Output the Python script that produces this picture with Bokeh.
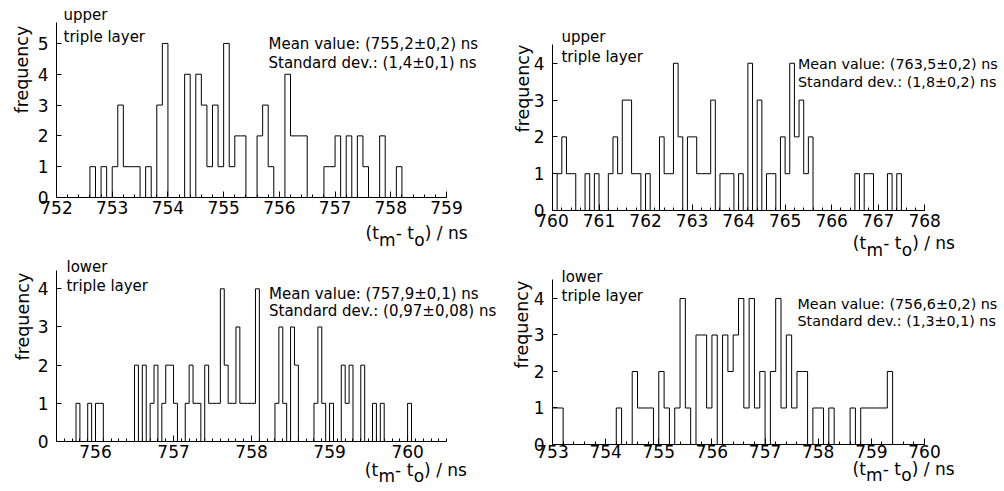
import math
import numpy as np
from bokeh.plotting import figure
from bokeh.layouts import column, row
from bokeh.models import Label, FixedTicker, Range1d
from bokeh.embed import file_html
from bokeh.resources import INLINE

FONT = "DejaVu Sans"

# ---------------- data (bin left edge in ns, counts) ----------------
# upper triple layer, left panel (bin width 0.1 ns)
ul_bins = [752.6, 752.8, 753.0, 753.1, 753.2, 753.3, 753.4, 753.6, 753.8, 753.9,
           754.3, 754.5, 754.6, 754.7, 754.8, 754.9, 755.0, 755.1, 755.2, 755.3,
           755.6, 755.7, 755.8, 756.1, 756.2, 756.3, 756.4, 756.8, 756.9, 757.0,
           757.2, 757.4, 757.5, 757.8, 758.1]
ul_counts = [1, 1, 1, 3, 1, 1, 1, 1, 3, 5,
             4, 4, 3, 1, 3, 1, 5, 1, 2, 2,
             2, 3, 1, 4, 2, 2, 2, 1, 1, 2,
             2, 2, 1, 2, 1]
ul_mean = "Mean value: (755,2±0,2) ns"
ul_std = "Standard dev.: (1,4±0,1) ns"

# upper triple layer, right panel (bin width 0.1 ns)
ur_bins = [760.1, 760.2, 760.3, 760.4, 760.7, 760.9,
           761.2, 761.3, 761.4, 761.5, 761.6, 761.7, 761.8,
           762.0, 762.3, 762.4, 762.5, 762.6, 762.7, 762.9,
           763.0, 763.1, 763.2, 763.3, 763.4, 763.6, 763.7, 763.8,
           764.0, 764.2, 764.4, 764.6, 764.7, 764.9,
           765.0, 765.1, 765.2, 765.3, 765.4, 765.5,
           766.5, 766.7, 766.8, 767.2, 767.4]
ur_counts = [1, 2, 1, 1, 1, 1,
             1, 2, 1, 3, 3, 1, 1,
             1, 2, 1, 1, 4, 2, 2,
             2, 1, 1, 1, 3, 1, 1, 1,
             1, 4, 3, 1, 1, 2,
             1, 4, 2, 3, 1, 2,
             1, 1, 1, 1, 1]
ur_mean = "Mean value: (763,5±0,2) ns"
ur_std = "Standard dev.: (1,8±0,2) ns"

# lower triple layer, left panel (bin width 0.05 ns)
ll_bins = [755.75, 755.90, 756.00, 756.05,
           756.50, 756.60, 756.70, 756.75, 756.85, 756.90, 756.95, 757.00,
           757.15, 757.20, 757.25, 757.30,
           757.40, 757.45, 757.50, 757.55, 757.60, 757.65, 757.70, 757.75,
           757.80, 757.85, 757.90, 757.95, 758.00, 758.05,
           758.30, 758.35, 758.40, 758.50, 758.55,
           758.80, 758.85, 758.90, 759.00,
           759.15, 759.20, 759.25, 759.40,
           759.55, 759.65, 760.00]
ll_counts = [1, 1, 1, 1,
             2, 2, 1, 2, 1, 2, 2, 1,
             1, 2, 1, 1,
             2, 1, 1, 1, 4, 2, 1, 1,
             3, 1, 1, 1, 1, 4,
             1, 3, 1, 3, 2,
             1, 3, 1, 1,
             2, 1, 2, 2,
             1, 1, 1]
ll_mean = "Mean value: (757,9±0,1) ns"
ll_std = "Standard dev.: (0,97±0,08) ns"

# lower triple layer, right panel (bin width 0.1 ns)
lr_bins = [753.0, 753.1,
           754.2, 754.5, 754.6, 754.7, 754.8,
           755.0, 755.1, 755.3, 755.4, 755.5, 755.7, 755.8, 755.9,
           756.0, 756.2, 756.3, 756.4, 756.5, 756.6, 756.7, 756.8, 756.9,
           757.1, 757.2, 757.3, 757.4, 757.5, 757.6, 757.7, 757.9,
           758.0, 758.2, 758.6, 758.8, 758.9,
           759.0, 759.1, 759.2, 759.3]
lr_counts = [1, 1,
             1, 2, 1, 1, 1,
             2, 1, 1, 4, 1, 3, 3, 1,
             3, 3, 2, 3, 4, 1, 4, 1, 2,
             2, 4, 1, 3, 1, 2, 2, 1,
             1, 1, 1, 1, 1,
             1, 1, 1, 2]
lr_mean = "Mean value: (756,6±0,2) ns"
lr_std = "Standard dev.: (1,3±0,1) ns"

y_title = "frequency"
# x title "(t_m - t_o) / ns": main line plus a second, slightly lowered line holding the subscripts
x_title_main = "(t\u2003- t\u2007) / ns"
x_title_subs = "\u2002\u2009\u200am\u2003\u200ao"

PANELS = [
    dict(fig=(0, 0, 500, 250), ax=(56, 446, 197, 22), xr=(752, 759), ytopval=5.68,
         ymaxtick=5, minor=0.2, bw=0.1, bins=ul_bins, counts=ul_counts,
         layer="upper", mean=ul_mean, std=ul_std, stat_size=15, xlab_standoff=3,
         layer_xy=(63, 14, 36), stat_xy=(268, 43, 62.5), freq_xy=(21, 113), xt_xy=(365, 236)),
    dict(fig=(500, 0, 500, 262), ax=(551, 924, 210, 44), xr=(760, 768), ytopval=4.51,
         ymaxtick=4, minor=0.2, bw=0.1, bins=ur_bins, counts=ur_counts,
         layer="upper", mean=ur_mean, std=ur_std, stat_size=14.3, xlab_standoff=3,
         layer_xy=(560, 36, 56), stat_xy=(797, 63.5, 81), freq_xy=(521, 132), xt_xy=(852, 246)),
    dict(fig=(0, 250, 500, 241), ax=(55, 446, 441, 270), xr=(755.5, 760.5), ytopval=4.48,
         ymaxtick=4, minor=0.1, bw=0.05, bins=ll_bins, counts=ll_counts,
         layer="lower", mean=ll_mean, std=ll_std, stat_size=15, xlab_standoff=3,
         layer_xy=(65, 266.5, 285.5), stat_xy=(268, 293.5, 310), freq_xy=(21, 360), xt_xy=(364, 472.5)),
    dict(fig=(500, 262, 500, 229), ax=(552, 924, 444, 279), xr=(753, 760), ytopval=4.52,
         ymaxtick=4, minor=0.2, bw=0.1, bins=lr_bins, counts=lr_counts,
         layer="lower", mean=lr_mean, std=lr_std, stat_size=14.3, xlab_standoff=0,
         layer_xy=(561, 276.5, 295), stat_xy=(797, 303, 320), freq_xy=(521, 368), xt_xy=(852, 471.5)),
]


def build(c):
    fx, fy, w, h = c["fig"]
    L, R, B, T = c["ax"]
    x0, x1 = c["xr"]
    yv = c["ytopval"]
    kx = (x1 - x0) / (R - L)       # data per pixel, x
    ky = yv / (B - T)              # data per pixel, y
    # frame spans from the axes to the top/right edges of the canvas; axes are bounded
    p = figure(width=w, height=h, title=None,
               x_range=Range1d(x0, x0 + (fx + w - L) * kx),
               y_range=Range1d(0, (B - fy) * ky),
               output_backend="svg", toolbar_location=None,
               min_border_left=L - fx, min_border_right=0,
               min_border_top=0, min_border_bottom=fy + h - B)
    p.outline_line_color = None
    p.xgrid.visible = False
    p.ygrid.visible = False
    p.background_fill_color = "white"
    p.border_fill_color = "white"

    def dx(px):
        return x0 + (px - L) * kx

    def dy(py):
        return (B - py) * ky

    # histogram outline
    bw = c["bw"]
    n = int(round((x1 - x0) / bw))
    ys = [0] * (n + 1)
    for b, cnt in zip(c["bins"], c["counts"]):
        ys[int(round((b - x0) / bw))] = cnt
    xs = [x0 + i * bw for i in range(n + 1)]
    p.step(xs, ys, mode="after", line_color="black", line_width=1)

    # axes
    xa = p.xaxis[0]
    majors = list(range(int(math.ceil(x0)), int(math.floor(x1)) + 1))
    minors = [float(v) for v in np.round(np.arange(x0, x1 + 1e-9, c["minor"]), 3)]
    xa.ticker = FixedTicker(ticks=majors, minor_ticks=minors)
    xa.bounds = (x0, x1)
    xa.major_tick_in = 6
    xa.major_tick_out = 0
    xa.minor_tick_in = 3
    xa.minor_tick_out = 0
    xa.major_label_standoff = c["xlab_standoff"]
    ya = p.yaxis[0]
    ya.ticker = FixedTicker(ticks=list(range(0, c["ymaxtick"] + 1)))
    ya.bounds = (0, yv)
    ya.major_tick_in = 5
    ya.major_tick_out = 0
    ya.minor_tick_line_color = None
    ya.major_label_standoff = 8
    for ax in (xa, ya):
        ax.axis_line_color = "black"
        ax.major_tick_line_color = "black"
        ax.major_label_text_font = FONT
        ax.major_label_text_font_size = "17px"
        ax.major_label_text_color = "black"
    xa.minor_tick_line_color = "black"

    def lab(text, px, py, size, angle=0.0, place=None, line_height=1.2):
        lbl = Label(x=dx(px), y=dy(py), text=text, text_font=FONT,
                    text_font_size=f"{size}px", text_color="black",
                    text_align="left", text_baseline="alphabetic", angle=angle,
                    text_line_height=line_height)
        if place is None:
            p.add_layout(lbl)
        else:
            p.add_layout(lbl, place)

    lx, ly1, ly2 = c["layer_xy"]
    lab(c["layer"], lx, ly1, 15)
    lab("triple layer", lx, ly2, 15)
    sx, sy1, sy2 = c["stat_xy"]
    lab(c["mean"], sx, sy1, c["stat_size"])
    lab(c["std"], sx, sy2, c["stat_size"])
    qx, qy = c["freq_xy"]
    lab(y_title, qx, qy, 17.5, angle=math.pi / 2, place="left")
    tx, ty = c["xt_xy"]
    lab(x_title_main + "\n" + x_title_subs, tx, ty, 17, place="below", line_height=0.33)
    return p


figs = [build(c) for c in PANELS]
layout = row(column(figs[0], figs[2]), column(figs[1], figs[3]))

open("out.html", "w").write(file_html(layout, INLINE))
